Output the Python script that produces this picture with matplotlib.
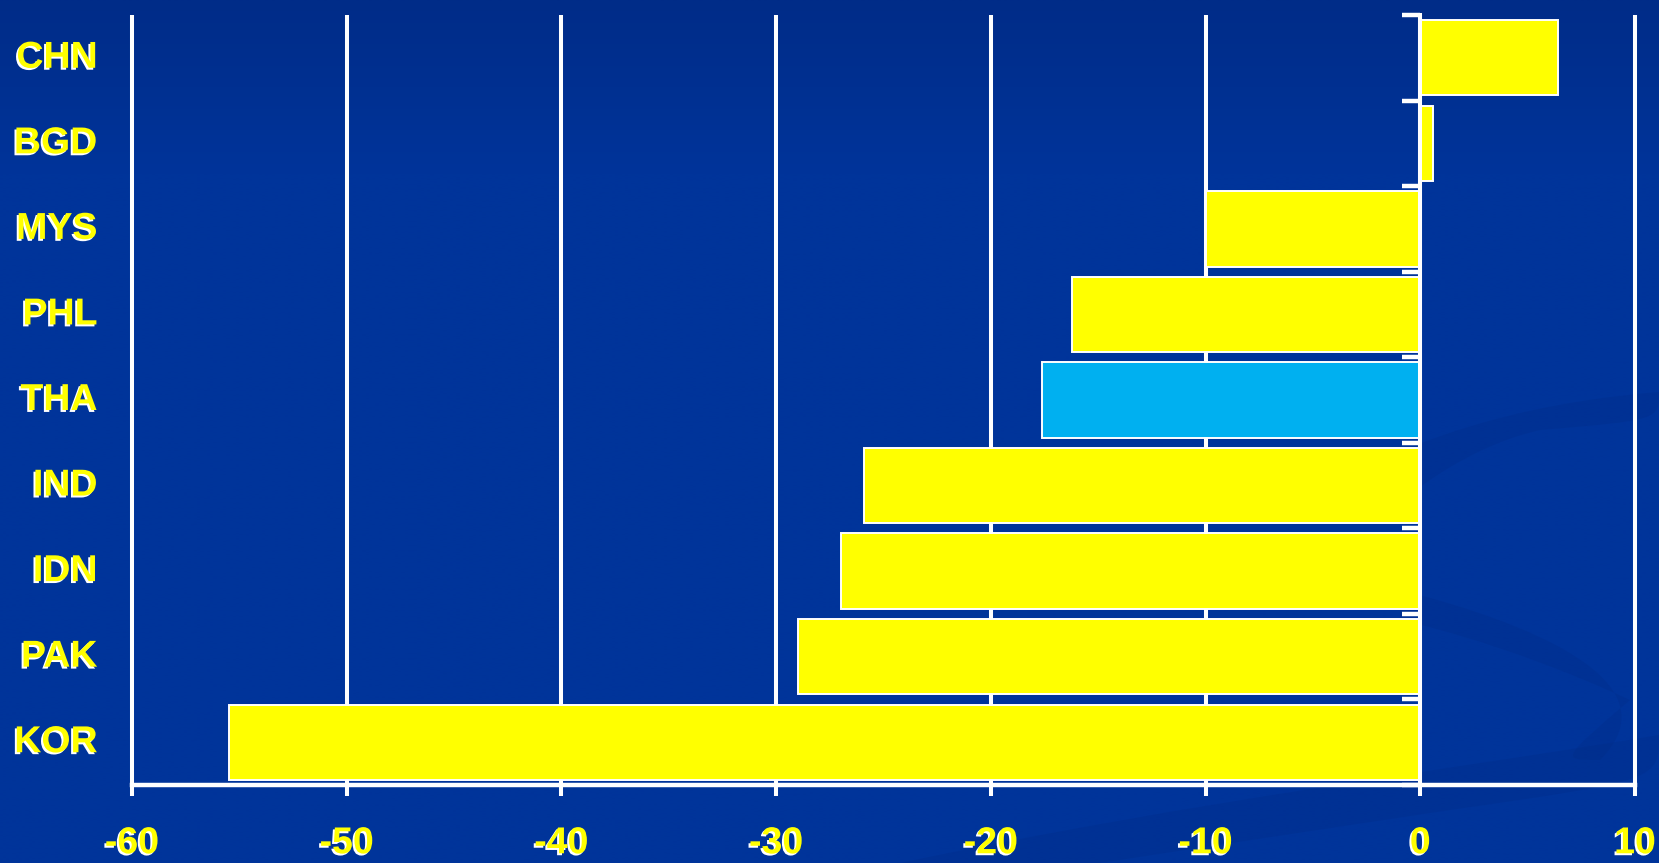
import matplotlib
matplotlib.use("Agg")
import matplotlib.pyplot as plt
import matplotlib.patheffects as pe
import matplotlib.transforms as mtransforms
from matplotlib.path import Path
from matplotlib.patches import PathPatch
import numpy as np

# Change by country (%), listed top to bottom
countries = ["CHN", "BGD", "MYS", "PHL", "THA", "IND", "IDN", "PAK", "KOR"]
changes = [6.4, 0.6, -10.0, -16.2, -17.6, -25.9, -27.0, -29.0, -55.5]
highlight = "THA"
x_ticks = [-60, -50, -40, -30, -20, -10, 0, 10]

YELLOW = "#FFFF00"
CYAN = "#00B0F0"
WHITE = "white"
FONT = "Liberation Sans"

W, H = 1659, 863
fig = plt.figure(figsize=(W / 100, H / 100), dpi=100)

# ---- slide-style background ----
bg = fig.add_axes([0, 0, 1, 1], zorder=-10)
bg.set_xlim(0, W)
bg.set_ylim(H, 0)
bg.axis("off")
rows = np.linspace(0, 1, 200)[:, None]
top = np.array([0.0, 44, 136]) / 255
mid = np.array([0.0, 52, 154]) / 255
t = np.clip(rows / 0.2, 0, 1)[..., None]
grad = top * (1 - t) + mid * t
grad = np.repeat(grad, 2, axis=1)
bg.imshow(grad, extent=[0, W, H, 0], aspect="auto", interpolation="bilinear")

swoosh = (0.0, 0.16, 0.50)


def band(verts, alpha):
    codes = [Path.MOVETO] + [Path.CURVE4] * (len(verts) - 2) + [Path.CLOSEPOLY]
    bg.add_patch(PathPatch(Path(verts, codes), facecolor=swoosh, edgecolor="none", alpha=alpha))


# upper sweeping band on the right
band([(1380, 460), (1470, 420), (1560, 400), (1659, 392),
      (1659, 420), (1659, 420), (1540, 430), (1450, 450), (1380, 520), (1380, 520), (1380, 460)], 0.22)
# lower crescent
band([(1400, 590), (1520, 620), (1680, 680), (1600, 760),
      (1560, 760), (1560, 760), (1630, 700), (1500, 640), (1400, 620), (1400, 620), (1400, 590)], 0.22)
# bottom diagonal band
band([(900, 863), (1200, 800), (1450, 770), (1659, 735),
      (1659, 780), (1659, 780), (1450, 810), (1250, 840), (1100, 863), (1100, 863), (900, 863)], 0.22)

# ---- chart ----
left_px, right_px = 132, 1635
top_px, bottom_px = 15, 785
ax = fig.add_axes([left_px / W, 1 - bottom_px / H,
                   (right_px - left_px) / W, (bottom_px - top_px) / H])
ax.patch.set_alpha(0)

ypos = np.arange(len(countries))[::-1]
colors = [CYAN if c == highlight else YELLOW for c in countries]
ax.barh(ypos, changes, height=0.88, color=colors, edgecolor=WHITE,
        linewidth=1.4, zorder=3)

ax.set_xlim(x_ticks[0], x_ticks[-1])
ax.set_ylim(-0.5, len(countries) - 0.5)

# vertical grid lines, including both ends of the range
ax.vlines(x_ticks, 0, 1, transform=ax.get_xaxis_transform(), colors=WHITE,
          linewidth=2.9, zorder=1, clip_on=False)

for side in ("top", "right"):
    ax.spines[side].set_visible(False)
ax.spines["bottom"].set_color(WHITE)
ax.spines["bottom"].set_linewidth(3.2)
ax.spines["bottom"].set_zorder(4)
ax.spines["left"].set_position(("data", 0))
ax.spines["left"].set_color(WHITE)
ax.spines["left"].set_linewidth(2.9)
ax.spines["left"].set_zorder(4)

shadow = [pe.withSimplePatchShadow(offset=(-1.4, -1.4), shadow_rgbFace=WHITE, alpha=1.0)]

ax.set_xticks(x_ticks)
ax.set_xticklabels([str(v) for v in x_ticks])
ax.tick_params(axis="x", direction="out", length=8, width=2.9, color=WHITE,
               pad=21, labelcolor=YELLOW, labelsize=27)
for lbl in ax.get_xticklabels():
    lbl.set_fontfamily(FONT)
    lbl.set_fontweight("bold")
    lbl.set_path_effects(shadow)

# category separators along the zero axis
ax.set_yticks([])
ax.set_yticks(np.arange(-0.5, len(countries), 1.0), minor=True)
ax.tick_params(axis="y", which="minor", direction="out", length=13, width=3.2, color=WHITE)

label_tf = mtransforms.blended_transform_factory(ax.transAxes, ax.transData)
for name, y in zip(countries, ypos):
    ax.text(-0.023, y, name, transform=label_tf, ha="right", va="center",
            color=YELLOW, fontsize=27, fontweight="bold", family=FONT,
            path_effects=shadow)

fig.savefig("out.png", dpi=100)
